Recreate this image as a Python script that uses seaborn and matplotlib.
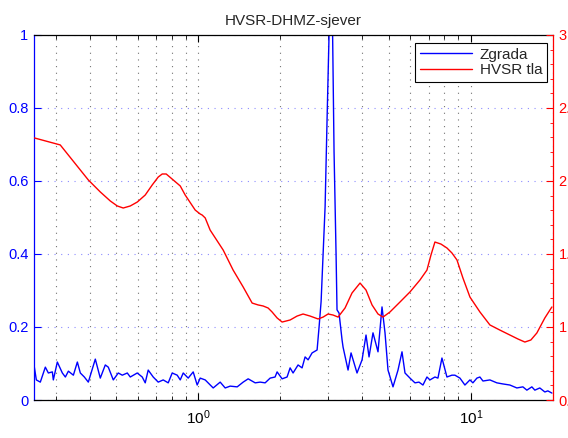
import numpy as np
import pandas as pd
import matplotlib
matplotlib.use("Agg")
import matplotlib.pyplot as plt
import matplotlib.ticker as mticker
import seaborn as sns

# ---------------- data ----------------
title = "HVSR-DHMZ-sjever"
label_building = "Zgrada"
label_soil = "HVSR tla"

freq_building = [
    0.2507, 0.2550, 0.2637, 0.2751, 0.2822, 0.2919, 0.2943, 0.3044, 0.3176, 0.3258,
    0.3342, 0.3486, 0.3605, 0.3697, 0.3824, 0.3955, 0.4195, 0.4375, 0.4564, 0.4681,
    0.4883, 0.5093, 0.5268, 0.5495, 0.5636, 0.5977, 0.6234, 0.6394, 0.6557, 0.6840,
    0.7135, 0.7443, 0.7764, 0.8030, 0.8377, 0.8594, 0.8813, 0.9191, 0.9587, 0.9916,
    1.017, 1.061, 1.135, 1.204, 1.256, 1.310, 1.390, 1.462, 1.525, 1.618,
    1.687, 1.760, 1.836, 1.914, 1.947, 2.031, 2.118, 2.173, 2.228, 2.324,
    2.404, 2.466, 2.529, 2.616, 2.729, 2.775, 2.823, 2.871, 2.920, 2.969,
    3.045, 3.097, 3.149, 3.203, 3.229, 3.285, 3.370, 3.398, 3.544, 3.635,
    3.823, 3.989, 4.125, 4.231, 4.375, 4.564, 4.721, 4.842, 4.966, 5.180,
    5.404, 5.589, 5.732, 5.978, 6.235, 6.450, 6.671, 6.900, 7.076, 7.381,
    7.570, 7.831, 8.168, 8.519, 8.738, 9.115, 9.507, 9.916, 10.17, 10.52,
    10.79, 11.07, 11.74, 12.45, 13.10, 13.90, 14.74, 15.51, 16.04, 16.73,
    17.16, 17.89, 18.67, 19.15, 19.81,
]
amp_building = [
    0.090, 0.055, 0.049, 0.090, 0.074, 0.077, 0.055, 0.104, 0.074, 0.063,
    0.079, 0.068, 0.104, 0.074, 0.063, 0.049, 0.112, 0.060, 0.096, 0.090,
    0.055, 0.074, 0.068, 0.074, 0.063, 0.074, 0.063, 0.047, 0.082, 0.063,
    0.049, 0.055, 0.047, 0.074, 0.068, 0.055, 0.074, 0.060, 0.077, 0.041,
    0.060, 0.055, 0.033, 0.049, 0.033, 0.038, 0.036, 0.049, 0.058, 0.047,
    0.049, 0.047, 0.060, 0.063, 0.077, 0.058, 0.063, 0.088, 0.074, 0.096,
    0.088, 0.118, 0.110, 0.129, 0.137, 0.200, 0.270, 0.400, 0.530, 0.770,
    1.120, 1.120, 0.680, 0.400, 0.247, 0.238, 0.164, 0.145, 0.082, 0.129,
    0.074, 0.110, 0.178, 0.118, 0.184, 0.132, 0.255, 0.184, 0.082, 0.036,
    0.082, 0.132, 0.074, 0.060, 0.047, 0.049, 0.041, 0.063, 0.055, 0.063,
    0.060, 0.115, 0.063, 0.068, 0.068, 0.060, 0.041, 0.055, 0.047, 0.060,
    0.063, 0.052, 0.055, 0.047, 0.044, 0.041, 0.033, 0.036, 0.027, 0.036,
    0.027, 0.033, 0.022, 0.025, 0.019,
]

freq_soil = [
    0.2507, 0.312, 0.3955, 0.4375, 0.4762, 0.5050, 0.531, 0.5636, 0.598, 0.6394,
    0.6784, 0.7135, 0.738, 0.7634, 0.810, 0.8594, 0.896, 0.975, 1.017, 1.034,
    1.061, 1.106, 1.235, 1.343, 1.462, 1.577, 1.659, 1.730, 1.805, 1.866,
    1.947, 2.031, 2.173, 2.305, 2.424, 2.572, 2.752, 2.871, 2.994, 3.123,
    3.258, 3.455, 3.665, 3.922, 4.125, 4.340, 4.564, 4.761, 5.050, 5.494,
    5.978, 6.505, 6.90, 7.138, 7.38, 7.766, 8.17, 8.519, 8.89, 9.347,
    9.92, 10.79, 11.74, 12.77, 13.90, 14.87, 15.77, 16.59, 17.45, 18.67,
    19.81,
]
hvsr_soil = [
    2.295, 2.247, 2.007, 1.925, 1.863, 1.829, 1.815, 1.829, 1.856, 1.904,
    1.973, 2.027, 2.048, 2.048, 2.007, 1.966, 1.904, 1.801, 1.774, 1.767,
    1.747, 1.664, 1.527, 1.390, 1.274, 1.164, 1.151, 1.144, 1.130, 1.103,
    1.062, 1.034, 1.048, 1.075, 1.089, 1.075, 1.055, 1.068, 1.089, 1.082,
    1.068, 1.130, 1.233, 1.301, 1.253, 1.151, 1.089, 1.068, 1.103, 1.171,
    1.240, 1.322, 1.390, 1.493, 1.582, 1.568, 1.541, 1.507, 1.459, 1.336,
    1.205, 1.103, 1.014, 0.979, 0.945, 0.918, 0.897, 0.911, 0.959, 1.062,
    1.137,
]

left_ticks = [0, 0.2, 0.4, 0.6, 0.8, 1]
left_ticklabels = ["0", "0.2", "0.4", "0.6", "0.8", "1"]
right_ticks = [0.5, 1, 1.5, 2, 2.5, 3]
right_ticklabels = ["0.5", "1", "1.5", "2", "2.5", "3"]

df_b = pd.DataFrame({"f": freq_building, "a": amp_building})
df_s = pd.DataFrame({"f": freq_soil, "h": hvsr_soil})

# ---------------- style ----------------
sns.set_style("white")
plt.rcParams["font.family"] = ["Liberation Sans", "DejaVu Sans"]
plt.rcParams["mathtext.fontset"] = "custom"
plt.rcParams["mathtext.rm"] = "Liberation Sans"
plt.rcParams["mathtext.it"] = "Liberation Sans"

BLUE = "#0000ff"
RED = "#ff0000"

fig = plt.figure(figsize=(5.68, 4.38), dpi=100)
ax = fig.add_axes([34 / 568, 1 - 400 / 438, (553 - 34) / 568, (400 - 35) / 438])
ax.set_xscale("log")

sns.lineplot(data=df_b, x="f", y="a", ax=ax, color=BLUE, lw=1.0,
             label=label_building, legend=False, sort=False)
ax.set_xlim(0.25, 20)
ax.set_ylim(0, 1)
ax.set_xlabel("")
ax.set_ylabel("")
ax.set_yticks(left_ticks)
ax.set_yticklabels(left_ticklabels)

ax.xaxis.set_major_locator(mticker.LogLocator(base=10))
ax.xaxis.set_minor_locator(mticker.LogLocator(base=10, subs=np.arange(2, 10)))
ax.xaxis.set_minor_formatter(mticker.NullFormatter())

ax.grid(False)
ax.grid(True, which="both", axis="x", linestyle=(0, (1, 5)), color="#444444", lw=0.8, alpha=0.75)
ax.grid(True, which="major", axis="y", linestyle=(0, (1, 5)), color="#7070ff", lw=0.8, alpha=0.8)

ax.tick_params(axis="x", which="both", direction="in", top=True, bottom=True,
               labelsize=11, colors="black", pad=6)
ax.tick_params(axis="x", which="major", length=5, width=0.8)
ax.tick_params(axis="x", which="minor", length=3, width=0.6)
ax.tick_params(axis="y", which="major", direction="in", length=5, width=0.8,
               colors=BLUE, labelcolor=BLUE, labelsize=10.5, pad=4, right=False)

for s in ["top", "bottom"]:
    ax.spines[s].set_color("black")
    ax.spines[s].set_linewidth(0.9)
ax.spines["left"].set_color(BLUE)
ax.spines["left"].set_linewidth(0.9)
ax.spines["right"].set_visible(False)

ax2 = ax.twinx()
sns.lineplot(data=df_s, x="f", y="h", ax=ax2, color=RED, lw=1.0,
             label=label_soil, legend=False, sort=False)
ax2.set_xlim(0.25, 20)
ax2.set_ylim(0.5, 3)
ax2.set_ylabel("")
ax2.set_yticks(right_ticks)
ax2.set_yticklabels(right_ticklabels)
ax2.yaxis.set_minor_locator(mticker.MultipleLocator(0.1))
ax2.tick_params(axis="y", which="major", direction="in", length=5, width=0.8,
                colors=RED, labelcolor=RED, labelsize=10.5, pad=4)
ax2.tick_params(axis="y", which="minor", direction="in", length=2.5, width=0.6,
                colors=RED)
ax2.grid(False)
ax2.spines["right"].set_color(RED)
ax2.spines["right"].set_linewidth(0.9)
ax2.spines["left"].set_visible(False)
ax2.spines["top"].set_visible(False)
ax2.spines["bottom"].set_visible(False)

ax.set_title(title, fontsize=11, pad=7)

h1, l1 = ax.get_legend_handles_labels()
h2, l2 = ax2.get_legend_handles_labels()
leg = ax2.legend(h1 + h2, l1 + l2, loc="upper right", bbox_to_anchor=(0.988, 0.978),
                 fontsize=11, frameon=True, fancybox=False, framealpha=1,
                 edgecolor="black", handlelength=3.4, borderpad=0.3,
                 labelspacing=0.12, handletextpad=0.5, borderaxespad=0)
leg.get_frame().set_linewidth(0.8)

fig.savefig("out.png", dpi=100)
